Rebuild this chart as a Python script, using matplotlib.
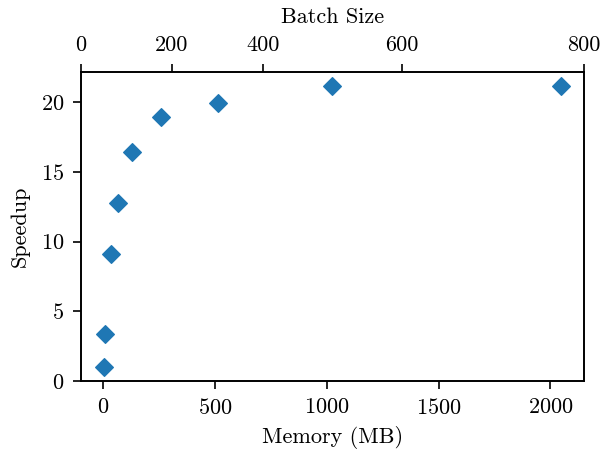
import matplotlib
matplotlib.use("Agg")
import matplotlib.pyplot as plt

plt.rcParams["font.family"] = "serif"
plt.rcParams["font.serif"] = ["cmr10"]
plt.rcParams["mathtext.fontset"] = "cm"
plt.rcParams["axes.formatter.use_mathtext"] = True
plt.rcParams["font.size"] = 16

# memory footprint vs. measured speedup
memory_mb = [1, 8, 32, 64, 128, 256, 512, 1024, 2048]
speedup = [1.0, 3.4, 9.1, 12.75, 16.4, 18.9, 19.95, 21.15, 21.15]

# batch size labels for the top axis and where they sit on the memory scale
batch_ticks = [0, 200, 400, 600, 800]
batch_tick_mem = [-101.35, 307, 715, 1336, 2150.35]

fig, ax = plt.subplots(figsize=(6.03, 4.49), dpi=100)
fig.subplots_adjust(left=0.134, right=0.9685, bottom=0.1514, top=0.8396)

ax.plot(memory_mb, speedup, linestyle="none", marker="D", markersize=9.4,
        color="#1f77b4", markeredgewidth=0.8)
ax.set_xlabel("Memory (MB)", labelpad=6)
ax.set_ylabel("Speedup", labelpad=8)
ax.set_xticks([0, 500, 1000, 1500, 2000])
ax.set_yticks([0, 5, 10, 15, 20])

ax2 = ax.twiny()
ax2.set_xlim(ax.get_xlim())
ax2.set_xticks(batch_tick_mem)
ax2.set_xticklabels([str(b) for b in batch_ticks])
ax2.set_xlabel("Batch Size", labelpad=9)

for a in (ax, ax2):
    a.tick_params(direction="out", length=6, width=1.2, pad=6, labelsize=16)
    for s in a.spines.values():
        s.set_linewidth(1.2)

fig.savefig("out.png", dpi=100)
